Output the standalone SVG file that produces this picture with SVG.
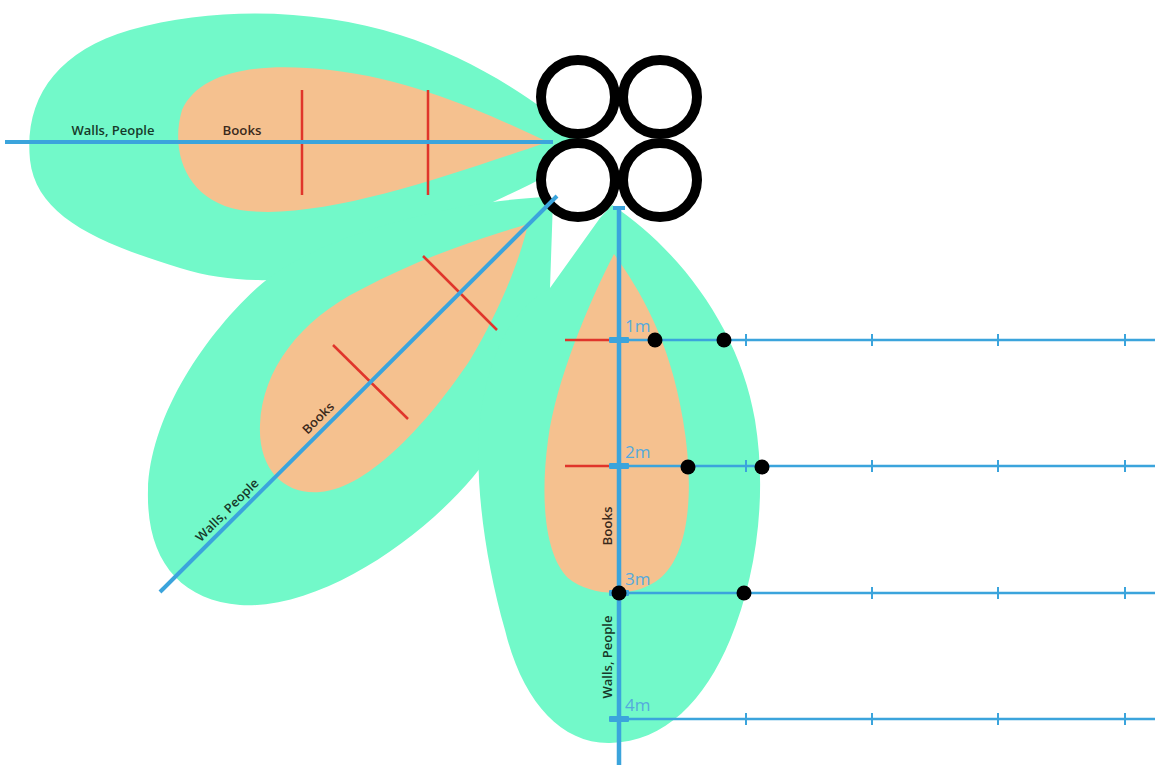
<svg xmlns="http://www.w3.org/2000/svg" width="1155" height="765" viewBox="0 0 1155 765">
<style>
.g{fill:#72f9c9}
.o{fill:#f5c18f}
.r{stroke:#e0352b;stroke-width:2.5;fill:none}
.b{stroke:#3ba4dc;fill:none}
.tk{stroke:#3ba4dc;stroke-width:2}
.bar{fill:#3ba4dc}
.dot{fill:#000}
.lw{font-family:"Open Sans","Liberation Sans",sans-serif;font-weight:600;font-size:12.5px;fill:#17392a}
.lb{font-family:"Open Sans","Liberation Sans",sans-serif;font-weight:600;font-size:12.5px;fill:#3b2a1c}
.m{font-family:"Open Sans","Liberation Sans",sans-serif;font-size:17px;fill:#55aadd}
.c{fill:#fff;stroke:#000;stroke-width:10}
</style>
<rect width="1155" height="765" fill="#fff"/>
<g id="lobes-green">
<path class="g" d="M 590,150 C 560,115 480,60 400,35 C 320,10 220,5 130,30 C 55,52 24,100 30,160 C 36,215 95,242 180,268 C 300,305 420,250 493,202 C 530,185 560,170 590,150 Z"/>
<path class="g" d="M 558,196 C 530,198 505,200 493,202 C 420,212 310,240 258,287 C 200,340 150,420 148,490 C 146,560 180,600 240,605 C 320,610 420,540 473,477 C 520,420 548,340 550,288 L 553,200 Z"/>
<path class="g" d="M 612,205 C 680,250 740,330 755,420 C 768,500 755,580 730,640 C 705,700 665,742 610,743 C 560,744 522,700 505,630 C 485,560 474,480 480,420 C 490,340 520,305 550,288 L 600,218 Z"/>
</g>
<g id="lobes-orange">
<path class="o" d="M 548,142 C 500,120 420,80 330,70 C 260,62 200,70 182,110 C 170,150 185,200 240,210 C 320,222 450,175 548,142 Z"/>
<path class="o" d="M 528,224 C 480,238 420,258 360,290 C 300,320 262,370 260,425 C 258,470 285,495 320,492 C 370,488 430,420 470,360 C 500,310 520,260 528,224 Z"/>
<path class="o" d="M 614,254 C 640,290 670,340 683,420 C 695,490 690,560 655,582 C 630,598 590,596 568,578 C 545,555 540,500 548,440 C 556,380 590,300 614,254 Z"/>
</g>
<g id="red-ticks">
<line class="r" x1="302" y1="90" x2="302" y2="195"/>
<line class="r" x1="428" y1="90" x2="428" y2="195"/>
<line class="r" x1="423" y1="256" x2="497" y2="330"/>
<line class="r" x1="333" y1="345" x2="408" y2="419"/>
<line class="r" x1="565" y1="340" x2="612" y2="340"/>
<line class="r" x1="565" y1="466" x2="612" y2="466"/>
</g>
<line class="b" x1="5" y1="142" x2="553" y2="142" stroke-width="4"/>
<g id="sensor">
<circle class="c" cx="578" cy="97" r="37"/>
<circle class="c" cx="660" cy="97" r="37"/>
<circle class="c" cx="578" cy="180" r="37"/>
<circle class="c" cx="660" cy="180" r="37"/>
</g>
<g id="connectors">
<line class="b" x1="160" y1="592" x2="557" y2="196" stroke-width="4"/>
<line class="b" x1="619" y1="207" x2="619" y2="765" stroke-width="4.5"/>
<rect class="bar" x="613" y="206" width="12" height="4"/>
<line class="b" x1="619" y1="340" x2="1155" y2="340" stroke-width="2.5"/>
<line class="b" x1="619" y1="466" x2="1155" y2="466" stroke-width="2.5"/>
<line class="b" x1="619" y1="593" x2="1155" y2="593" stroke-width="2.5"/>
<line class="b" x1="619" y1="719" x2="1155" y2="719" stroke-width="2.5"/>
<rect class="bar" x="609" y="337" width="20" height="6" rx="1"/>
<rect class="bar" x="609" y="463" width="20" height="6" rx="1"/>
<rect class="bar" x="609" y="590" width="20" height="6" rx="1"/>
<rect class="bar" x="609" y="716" width="20" height="6" rx="1"/>
<g id="ticks">
<line class="tk" x1="746" y1="334" x2="746" y2="346"/><line class="tk" x1="872" y1="334" x2="872" y2="346"/><line class="tk" x1="998" y1="334" x2="998" y2="346"/><line class="tk" x1="1125" y1="334" x2="1125" y2="346"/>
<line class="tk" x1="746" y1="460" x2="746" y2="472"/><line class="tk" x1="872" y1="460" x2="872" y2="472"/><line class="tk" x1="998" y1="460" x2="998" y2="472"/><line class="tk" x1="1125" y1="460" x2="1125" y2="472"/>
<line class="tk" x1="872" y1="587" x2="872" y2="599"/><line class="tk" x1="998" y1="587" x2="998" y2="599"/><line class="tk" x1="1125" y1="587" x2="1125" y2="599"/>
<line class="tk" x1="746" y1="713" x2="746" y2="725"/><line class="tk" x1="872" y1="713" x2="872" y2="725"/><line class="tk" x1="998" y1="713" x2="998" y2="725"/><line class="tk" x1="1125" y1="713" x2="1125" y2="725"/>
</g>
</g>
<g id="dots">
<circle class="dot" cx="655" cy="340" r="7.5"/>
<circle class="dot" cx="724" cy="340" r="7.5"/>
<circle class="dot" cx="688" cy="467" r="7.5"/>
<circle class="dot" cx="762" cy="467" r="7.5"/>
<circle class="dot" cx="619" cy="593" r="7.5"/>
<circle class="dot" cx="744" cy="593" r="7.5"/>
</g>
<g id="labels">
<text class="lw" x="113" y="135" text-anchor="middle" textLength="83" lengthAdjust="spacingAndGlyphs">Walls, People</text>
<text class="lb" x="242" y="135" text-anchor="middle" textLength="39" lengthAdjust="spacingAndGlyphs">Books</text>
<text class="lb" transform="translate(318,418) rotate(-45)" text-anchor="middle" dominant-baseline="central" textLength="39" lengthAdjust="spacingAndGlyphs">Books</text>
<text class="lw" transform="translate(227,510) rotate(-45)" text-anchor="middle" dominant-baseline="central" textLength="83" lengthAdjust="spacingAndGlyphs">Walls, People</text>
<text class="lb" transform="translate(607,526) rotate(-90)" text-anchor="middle" dominant-baseline="central" textLength="39" lengthAdjust="spacingAndGlyphs">Books</text>
<text class="lw" transform="translate(607,657) rotate(-90)" text-anchor="middle" dominant-baseline="central" textLength="83" lengthAdjust="spacingAndGlyphs">Walls, People</text>
<text class="m" x="625" y="332">1m</text>
<text class="m" x="625" y="458">2m</text>
<text class="m" x="625" y="585">3m</text>
<text class="m" x="625" y="711">4m</text>
</g>
</svg>
